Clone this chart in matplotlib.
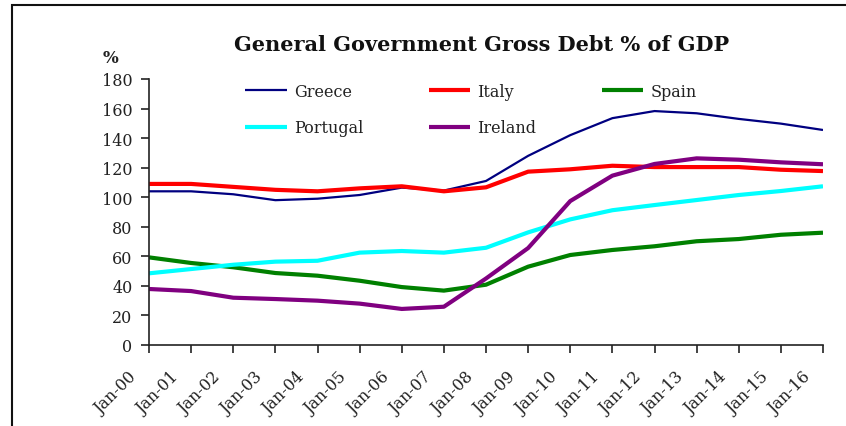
import numpy as np
import matplotlib.pyplot as plt
from matplotlib.patches import Rectangle
from matplotlib.transforms import ScaledTranslation

# Gross debt, % of GDP, January of each year
years = ['Jan-%02d' % y for y in range(0, 17)]
greece = [104, 104, 102, 98, 99, 101.5, 106.5, 104.5, 111, 128, 142, 153.5, 158.3, 156.8, 153, 149.8, 145.5]
italy = [109, 109, 107, 105, 104, 106, 107.4, 104, 106.7, 117.3, 118.9, 121.3, 120.4, 120.4, 120.4, 118.6, 117.7]
spain = [59.3, 55.5, 52.6, 48.7, 46.9, 43.5, 39.2, 36.8, 40.8, 53, 60.9, 64.3, 66.8, 70.2, 71.7, 74.6, 76]
portugal = [48.5, 51.4, 54.3, 56.4, 57, 62.5, 63.6, 62.5, 65.8, 76.2, 85, 91.2, 94.7, 98.1, 101.5, 104.2, 107.4]
ireland = [37.9, 36.5, 32, 31.1, 30, 28, 24.4, 25.9, 45, 65.6, 97.4, 114.6, 122.5, 126.3, 125.4, 123.6, 122.3]

series = [
    ('Greece', greece, '#000080', 1.6),
    ('Italy', italy, '#ff0000', 3.0),
    ('Spain', spain, '#008000', 3.0),
    ('Portugal', portugal, '#00ffff', 3.0),
    ('Ireland', ireland, '#800080', 3.0),
]

plt.rcParams['font.family'] = 'DejaVu Serif'

fig = plt.figure(figsize=(8.46, 4.27), dpi=100)
ax = fig.add_axes([149 / 846, 81 / 427, 674 / 846, 266 / 427])

x = np.arange(len(years))
lines = {}
for name, vals, col, lw in series:
    lines[name], = ax.plot(x, vals, color=col, lw=lw, solid_capstyle='butt')

ax.set_xlim(0, len(years) - 1)
ax.set_ylim(0, 180)
ax.set_yticks(np.arange(0, 181, 20))
ax.set_xticks(x)

for s in ['top', 'right']:
    ax.spines[s].set_visible(False)
for s in ['left', 'bottom']:
    ax.spines[s].set_color('#222222')
    ax.spines[s].set_linewidth(1.2)
ax.tick_params(axis='both', direction='out', length=6, width=1.2,
               color='#222222', labelsize=11.5, labelcolor='#222222')
ax.tick_params(axis='y', pad=6)

ax.set_xticklabels(years, rotation=45, ha='right', va='center',
                   rotation_mode='anchor')
# slanted labels sit down and to the left of their tick
shift = ScaledTranslation(-15 / 100, -16 / 100, fig.dpi_scale_trans)
for lab in ax.get_xticklabels():
    lab.set_transform(lab.get_transform() + shift)

fig.text(110 / 846, 1 - 59 / 427, '%', ha='center', va='center',
         fontsize=12, fontweight='bold', color='#222222')
fig.text(482 / 846, 1 - 45 / 427, 'General Government Gross Debt % of GDP',
         ha='center', va='center', fontsize=15, fontweight='bold',
         color='#111111')

# legend laid out in rows, filled column by column
order = ['Greece', 'Portugal', 'Italy', 'Ireland', 'Spain']
leg = ax.legend([lines[n] for n in order], order, ncol=3, frameon=False,
                loc='upper left', bbox_to_anchor=(245 / 846, 1 - 84 / 427),
                bbox_transform=fig.transFigure, borderpad=0, borderaxespad=0,
                handlelength=2.6, handletextpad=0.45, labelspacing=1.2,
                columnspacing=4.1, fontsize=11.5)
for t in leg.get_texts():
    t.set_color('#222222')

fig.patches.append(Rectangle((12 / 846, -0.1), 1.2, 1 - 6 / 427 + 0.1,
                             transform=fig.transFigure, fill=False,
                             edgecolor='#111111', lw=1.5))

fig.savefig('out.png', dpi=100)
